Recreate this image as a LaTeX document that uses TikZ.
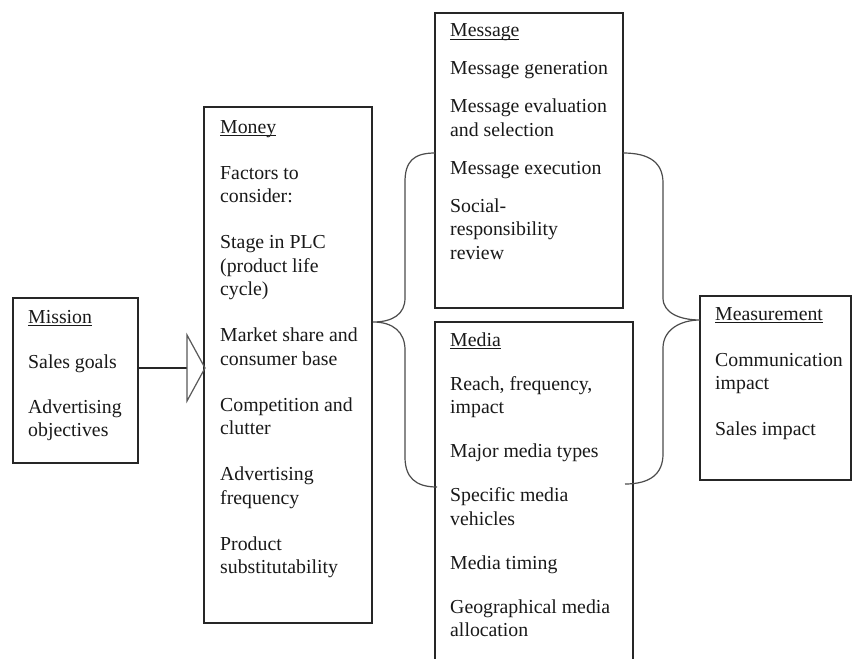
\documentclass[tikz,border=0pt]{standalone}
\usepackage{fontspec}
\setmainfont{Liberation Serif}
\newcommand{\myul}[1]{\setbox0\hbox{#1}\rlap{\rule[-3.2pt]{\wd0}{1pt}}\box0}
\newcommand{\boxfont}{\fontsize{19.8pt}{23.5pt}\selectfont}
\begin{document}
\begin{tikzpicture}[x=1pt,y=-1pt,
  frame/.style={draw=black!85, line width=1.2pt, inner sep=0pt, outer sep=0pt, anchor=north west},
  txt/.style={anchor=base west, inner sep=0pt, font=\boxfont, text=black!90},
  brace/.style={draw=black!70, line width=1.2pt},
  arrowline/.style={draw=black!85, line width=1.2pt},
  arrowhead/.style={draw=black!65, line width=1.2pt, line join=miter},
  ]
\clip (0,0) rectangle (853,658);
\fill[white] (0,0) rectangle (853,658);

% boxes
\node[frame, minimum width=125pt, minimum height=165pt] (mission) at (13,298) {};
\node[frame, minimum width=168pt, minimum height=516pt] (money) at (204,107) {};
\node[frame, minimum width=188pt, minimum height=295pt] (message) at (435,13) {};
\node[frame, minimum width=198pt, minimum height=380pt] (media) at (435,322) {};
\node[frame, minimum width=151pt, minimum height=184pt] (measure) at (700,296) {};

% texts
\node[txt] (missiontxt) at (28,323) {\begin{tabular}[t]{@{}l@{}}
\myul{Mission}\\[21.5pt]
Sales goals\\[21.5pt]
Advertising\\
objectives
\end{tabular}};

\node[txt] (moneytxt) at (220,133) {\begin{tabular}[t]{@{}l@{}}
\myul{Money}\\[22.5pt]
Factors to\\
consider:\\[22.5pt]
Stage in PLC\\
(product life\\
cycle)\\[22.5pt]
Market share and\\
consumer base\\[22.5pt]
Competition and\\
clutter\\[22.5pt]
Advertising\\
frequency\\[22.5pt]
Product\\
substitutability
\end{tabular}};

\node[txt] (messagetxt) at (450,37) {\begin{tabular}[t]{@{}l@{}}
\myul{Message}\\[14.5pt]
Message generation\\[14.5pt]
Message evaluation\\
and selection\\[14.5pt]
Message execution\\[14.5pt]
Social-\\
responsibility\\
review
\end{tabular}};

\node[txt] (mediatxt) at (450,346) {\begin{tabular}[t]{@{}l@{}}
\myul{Media}\\[20.5pt]
Reach, frequency,\\
impact\\[20.5pt]
Major media types\\[20.5pt]
Specific media\\
vehicles\\[20.5pt]
Media timing\\[20.5pt]
Geographical media\\
allocation
\end{tabular}};

\node[txt] (measuretxt) at (715,320) {\begin{tabular}[t]{@{}l@{}}
\myul{Measurement}\\[22.5pt]
Communication\\
impact\\[22.5pt]
Sales impact
\end{tabular}};

% arrow mission -> money
\coordinate (arrbase) at (187,368);
\coordinate (arrtop) at (187,335);
\coordinate (arrbot) at (187,401);
\coordinate (arrtip) at (205,368);
\draw[arrowline] (mission.east |- arrbase) -- (arrbase);
\draw[arrowhead] (arrtop) -- (arrtip) -- (arrbot) -- cycle;

% left brace money -> message / media
\coordinate (lbtop) at (435,153);
\coordinate (lbtip) at (373,322);
\coordinate (lbbot) at (437,487);
\draw[brace] (lbtop) .. controls (413,153) and (405,162) .. (405,182)
  -- (405,298) .. controls (405,314) and (393,322) .. (lbtip)
  .. controls (393,322) and (405,332) .. (405,350)
  -- (405,457) .. controls (405,477) and (415,487) .. (lbbot);

% right brace message / media -> measurement
\coordinate (rbtop) at (623,153);
\coordinate (rbtip) at (700,320);
\coordinate (rbbot) at (625,484);
\draw[brace] (rbtop) .. controls (650,153) and (663,163) .. (663,183)
  -- (663,298) .. controls (663,313) and (680,320) .. (rbtip)
  .. controls (680,320) and (663,330) .. (663,348)
  -- (663,454) .. controls (663,474) and (650,484) .. (rbbot);
\end{tikzpicture}
\end{document}
